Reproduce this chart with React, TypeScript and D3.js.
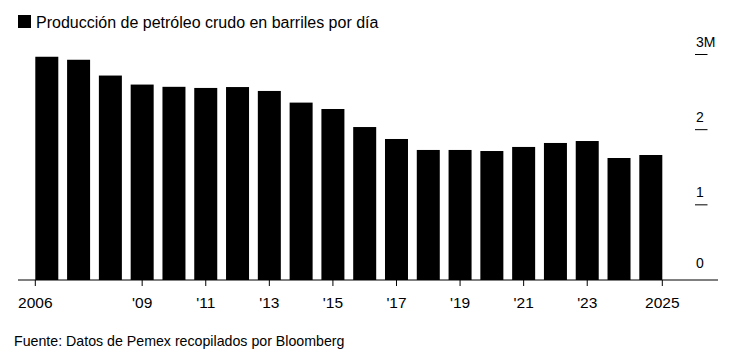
import React from 'react';
import * as d3 from 'd3';

const YEARS = [2006, 2007, 2008, 2009, 2010, 2011, 2012, 2013, 2014, 2015, 2016, 2017, 2018, 2019, 2020, 2021, 2022, 2023, 2024, 2025];
// millions of barrels per day
const PRODUCTION = [2.97, 2.93, 2.72, 2.6, 2.57, 2.555, 2.567, 2.515, 2.36, 2.275, 2.035, 1.876, 1.73, 1.73, 1.716, 1.77, 1.823, 1.849, 1.623, 1.663];
const X_TICKS = [2006, 2009, 2011, 2013, 2015, 2017, 2019, 2021, 2023, 2025];
const Y_TICKS = [0, 1, 2, 3];

const TITLE = 'Producción de petróleo crudo en barriles por día';
const SOURCE = 'Fuente: Datos de Pemex recopilados por Bloomberg';

const W = 738;
const H = 364;
const FONT = '"Liberation Sans", Arial, sans-serif';

const STEP = 31.79;
const PAD = 0.2765;
const X0 = 35.3;

const App = () => {
    const x = d3.scaleBand<number>()
        .domain(YEARS)
        .range([X0, X0 + STEP * (YEARS.length - PAD)])
        .paddingInner(PAD)
        .paddingOuter(0);

    const y = d3.scaleLinear()
        .domain([0, 3])
        .range([280, 54.5]);

    const yearLabel = (yr: number) =>
        yr === YEARS[0] || yr === YEARS[YEARS.length - 1] ? String(yr) : "'" + String(yr).slice(2);

    // first tick sits on the bar's left edge, last on its right edge, the rest centred
    const tickX = (yr: number) => {
        if (yr === YEARS[0]) return x(yr)!;
        if (yr === YEARS[YEARS.length - 1]) return x(yr)! + x.bandwidth();
        return x(yr)! + x.bandwidth() / 2;
    };

    const base = y(0);

    return (
        <svg width={W} height={H} style={{ position: 'absolute', left: 0, top: 0, background: '#fff' }}
            fontFamily={FONT}>
            {/* legend */}
            <rect x={18} y={15} width={13} height={13} fill="#000" />
            <text x={36} y={28} fontSize={16} fill="#000">{TITLE}</text>

            {/* bars */}
            {YEARS.map((yr, i) => (
                <rect key={yr} x={x(yr)} y={y(PRODUCTION[i])} width={x.bandwidth()}
                    height={base - y(PRODUCTION[i])} fill="#000" />
            ))}

            {/* y axis on the right */}
            {Y_TICKS.map(t => (
                <g key={t}>
                    {t > 0 && <line x1={695} x2={707.5} y1={y(t)} y2={y(t)} stroke="#000" strokeWidth={1} />}
                    <text x={696} y={y(t) - (t === 0 ? 12 : 8)} fontSize={14} fill="#000">{t === 3 ? '3M' : t}</text>
                </g>
            ))}

            {/* x axis */}
            <line x1={18} x2={718} y1={base} y2={base} stroke="#000" strokeWidth={1} />
            {X_TICKS.map(yr => (
                <g key={yr}>
                    <line x1={tickX(yr)} x2={tickX(yr)} y1={base} y2={base + 6} stroke="#000" strokeWidth={1} />
                    <text x={tickX(yr)} y={307.5} fontSize={15.5} textAnchor="middle" fill="#000">{yearLabel(yr)}</text>
                </g>
            ))}

            {/* source */}
            <text x={14} y={346} fontSize={14.2} fill="#000">{SOURCE}</text>
        </svg>
    );
};

export default App;
